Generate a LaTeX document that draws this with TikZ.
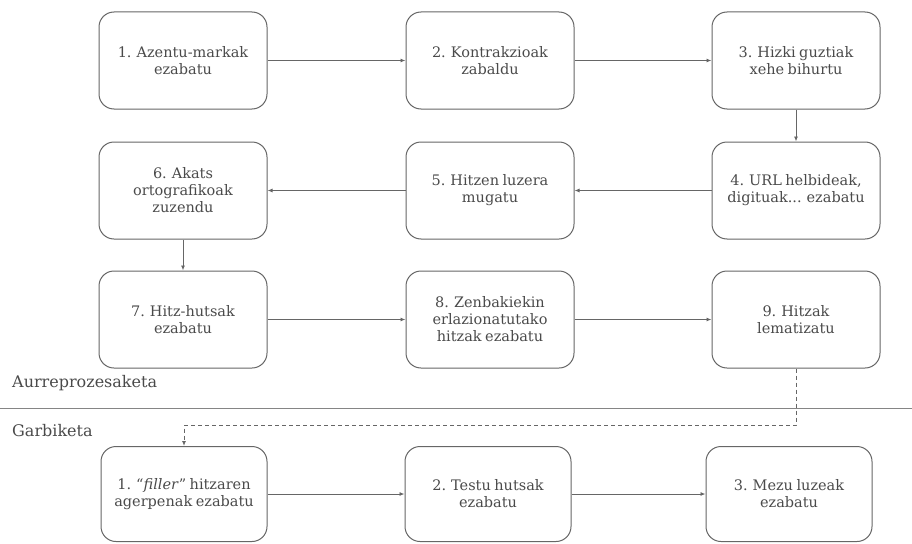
\documentclass[tikz,border=0pt]{standalone}
\usepackage{fontspec}
\setmainfont[WordSpace=0.75]{DejaVu Serif}
\usetikzlibrary{arrows.meta}
\definecolor{txt}{HTML}{4A4A4A}
\definecolor{ln}{HTML}{666666}
\tikzset{
  stepbox/.style={draw=ln, line width=1pt, rounded corners=15pt, minimum width=168pt, minimum height=97pt,
    align=center, text=txt, font=\fontsize{14.5}{17}\selectfont, inner sep=2pt},
  lowbox/.style={stepbox, minimum width=166pt, minimum height=95pt},
  conn/.style={draw=ln, line width=0.9pt, -{Latex[length=5pt,width=4pt]}},
  dconn/.style={conn, dash pattern=on 4pt off 3pt},
  seclabel/.style={text=txt, font=\fontsize{16}{18}\selectfont, anchor=west, inner sep=0pt}
}
\begin{document}
\begin{tikzpicture}[x=1pt,y=-1pt]
\useasboundingbox (0,0) rectangle (912,543);
\node[stepbox] (n1) at (183,60.5) {1. Azentu-markak\\ezabatu};
\node[stepbox] (n2) at (490,60.5) {2. Kontrakzioak\\zabaldu};
\node[stepbox] (n3) at (796,60.5) {3. Hizki guztiak\\xehe bihurtu};
\node[stepbox] (n4) at (796,190.5) {4. URL helbideak,\\digituak... ezabatu};
\node[stepbox] (n5) at (490,190.5) {5. Hitzen luzera\\mugatu};
\node[stepbox] (n6) at (183,190.5) {6. Akats\\ortografikoak\\zuzendu};
\node[stepbox] (n7) at (183,319.5) {7. Hitz-hutsak\\ezabatu};
\node[stepbox] (n8) at (490,319.5) {8. Zenbakiekin\\erlazionatutako\\hitzak ezabatu};
\node[stepbox] (n9) at (796,319.5) {9. Hitzak\\lematizatu};
\node[lowbox] (g1) at (184,494) {1. “\textit{filler}” hitzaren\\agerpenak ezabatu};
\node[lowbox] (g2) at (488,494) {2. Testu hutsak\\ezabatu};
\node[lowbox] (g3) at (789,494) {3. Mezu luzeak\\ezabatu};
\node[seclabel] (s1) at (12,383) {Aurreprozesaketa};
\node[seclabel] (s2) at (12,431) {Garbiketa};
\coordinate (sepL) at (0,408);
\coordinate (sepR) at (912,408);
\draw[draw=ln!80, line width=1pt] (sepL) -- (sepR);
\draw[conn] (n1) -- (n2);
\draw[conn] (n2) -- (n3);
\draw[conn] (n3) -- (n4);
\draw[conn] (n4) -- (n5);
\draw[conn] (n5) -- (n6);
\draw[conn] (n6) -- (n7);
\draw[conn] (n7) -- (n8);
\draw[conn] (n8) -- (n9);
\draw[conn] (g1) -- (g2);
\draw[conn] (g2) -- (g3);
\coordinate (d1) at (796,425);
\coordinate (d2) at (184,425);
\draw[dconn] (n9.south) -- (d1) -- (d2) -- (g1.north);
\end{tikzpicture}
\end{document}
